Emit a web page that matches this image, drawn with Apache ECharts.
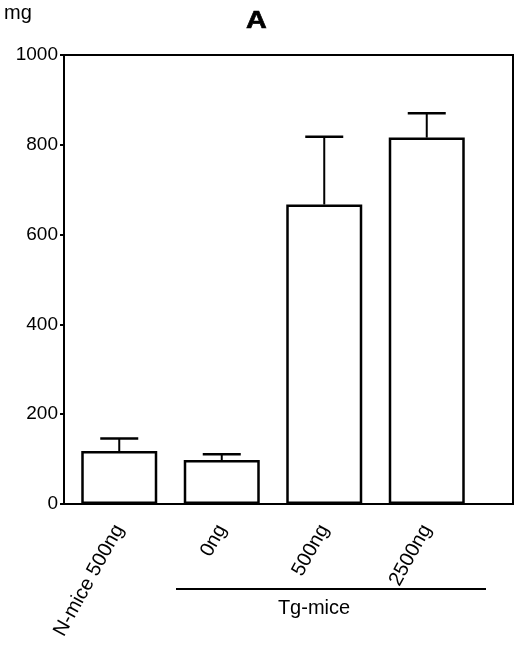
<!DOCTYPE html>
<html>
<head>
<meta charset="utf-8">
<script src="https://cdn.jsdelivr.net/npm/echarts@6/dist/echarts.min.js"></script>
<style>html,body{margin:0;padding:0;background:#fff;}#c{width:520px;height:646px;}</style>
</head>
<body>
<div id="c"></div>
<script>
var categories = ['N-mice 500ng', '0ng', '500ng', '2500ng'];
var means = [118, 98, 667, 816];
var upper = [146, 111, 818, 870];
var yTicks = [0, 200, 400, 600, 800, 1000];
var groupLabel = 'Tg-mice';
var unitLabel = 'mg';
var titleText = 'A';

var FONT = '"Liberation Sans", Arial, Helvetica, sans-serif';
var chart = echarts.init(document.getElementById('c'), null, {renderer: 'canvas'});

var errData = categories.map(function (c, i) { return [i, means[i], upper[i]]; });

var option = {
  backgroundColor: '#fff',
  animation: false,
  grid: [
    {left: 64, right: 7, top: 55, bottom: 142, show: true, borderColor: '#000', borderWidth: 2, backgroundColor: 'transparent'},
    {left: 68, width: 410, top: 55, bottom: 142}
  ],
  xAxis: [
    {type: 'category', gridIndex: 0, data: categories, show: false},
    {type: 'category', gridIndex: 1, data: categories,
      axisLine: {show: false}, axisTick: {show: false},
      axisLabel: {rotate: 61, fontFamily: FONT, fontSize: 20, color: '#000', margin: 22, interval: 0}}
  ],
  yAxis: [
    {type: 'value', gridIndex: 0, min: yTicks[0], max: yTicks[yTicks.length - 1], interval: yTicks[1] - yTicks[0],
      splitLine: {show: false},
      axisLine: {show: true, lineStyle: {color: '#000', width: 2}},
      axisTick: {show: true, length: 4, lineStyle: {color: '#000', width: 2}},
      axisLabel: {fontFamily: FONT, fontSize: 19, color: '#000', margin: 6, formatter: function (v) { return String(v); }}},
    {type: 'value', gridIndex: 1, min: yTicks[0], max: yTicks[yTicks.length - 1], show: false, splitLine: {show: false}}
  ],
  series: [
    {type: 'bar', xAxisIndex: 1, yAxisIndex: 1, data: means, barWidth: 76,
      itemStyle: {color: '#fff', borderColor: '#000', borderWidth: 2.5}, z: 2},
    {type: 'custom', xAxisIndex: 1, yAxisIndex: 1, data: errData, z: 3,
      renderItem: function (params, api) {
        var x = api.value(0);
        var p0 = api.coord([x, api.value(1)]);
        var p1 = api.coord([x, api.value(2)]);
        var hw = 19;
        return {type: 'group', children: [
          {type: 'line', shape: {x1: p0[0], y1: p0[1], x2: p1[0], y2: p1[1]}, style: {stroke: '#000', lineWidth: 2}},
          {type: 'line', shape: {x1: p1[0] - hw, y1: p1[1], x2: p1[0] + hw, y2: p1[1]}, style: {stroke: '#000', lineWidth: 2.5}}
        ]};
      }}
  ],
  graphic: [
    {type: 'text', x: 256.5, y: 22, scaleX: 1.25,
      style: {text: titleText, font: 'bold 23px ' + FONT, fill: '#000', stroke: '#000', lineWidth: 0.6, align: 'center', verticalAlign: 'middle'}},
    {type: 'text', left: 4, top: 3, style: {text: unitLabel, font: '20px ' + FONT, fill: '#000'}},
    {type: 'line', shape: {x1: 176, y1: 589, x2: 486, y2: 589}, style: {stroke: '#000', lineWidth: 2}},
    {type: 'text', x: 314, y: 608, style: {text: groupLabel, font: '20px ' + FONT, fill: '#000', align: 'center', verticalAlign: 'middle'}}
  ]
};
chart.setOption(option);
</script>
</body>
</html>
